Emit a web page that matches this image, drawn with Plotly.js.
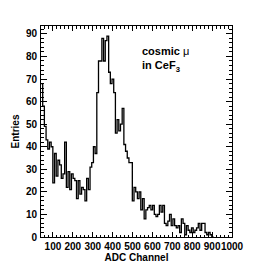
<!DOCTYPE html>
<html>
<head>
<meta charset="utf-8">
<script src="https://cdn.plot.ly/plotly-3.0.1.min.js"></script>
<style>html,body{margin:0;padding:0;background:#fff;}#chart{width:273px;height:264px;}</style>
</head>
<body>
<div id="chart"></div>
<script>
// Histogram: ADC channel counts (bin contents, left to right)
const binStart = 40;
const binWidth = 8.5;
const counts = [
  68,58,49,43,39,42,40,24,37,27,
  34,32,26,28,42,22,29,21,28,26,
  25,17,25,19,22,21,16,26,21,31,
  33,40,37,64,78,78,88,78,87,89,
  73,68,70,64,46,52,47,50,57,41,
  38,35,33,33,16,22,20,17,20,12,
  17,8,12,13,14,12,14,10,9,10,
  14,11,14,6,5,7,10,5,8,5,
  4,5,2,8,6,1,5,3,2,4,
  2,3,4,6,3,6,6,2,1,2,
  1,0
];
const xTickVals = [100,200,300,400,500,600,700,800,900,1000];
const xTickText = ["100","200","300","400","500","600","700","800","900","1000"];
const yTickVals = [0,10,20,30,40,50,60,70,80,90];

const xs = [], ys = [];
for (let i = 0; i < counts.length; i++) {
  xs.push(binStart + i * binWidth);
  ys.push(counts[i]);
}
xs.push(binStart + counts.length * binWidth);
ys.push(counts[counts.length - 1]);

const tickFont = {family: "Liberation Sans, Arial, sans-serif", size: 10, color: "#000", weight: "bold"};

const trace = {
  x: xs, y: ys, type: "scatter", mode: "lines",
  line: {shape: "hv", color: "#000", width: 1.3},
  hoverinfo: "skip"
};

const layout = {
  width: 273, height: 264,
  margin: {l: 41, r: 41, t: 26, b: 27},
  paper_bgcolor: "#fff", plot_bgcolor: "#fff",
  showlegend: false,
  xaxis: {
    range: [40, 1000],
    tickvals: xTickVals, ticktext: xTickText, tickangle: 0,
    ticks: "inside", ticklen: 5, tickwidth: 1, tickcolor: "#000",
    minor: {dtick: 20, ticks: "inside", ticklen: 2.5, tickcolor: "#000", tickwidth: 1, tick0: 0},
    showline: true, linecolor: "#000", linewidth: 1, mirror: "ticks",
    showgrid: false, zeroline: false,
    tickfont: tickFont, ticklabelstandoff: 0,
    title: {text: "ADC Channel", font: tickFont, standoff: 2}
  },
  yaxis: {
    range: [0, 93.5],
    tickvals: yTickVals,
    ticks: "inside", ticklen: 6, tickwidth: 1, tickcolor: "#000",
    minor: {dtick: 2, ticks: "inside", ticklen: 3, tickcolor: "#000", tickwidth: 1, tick0: 0},
    showline: true, linecolor: "#000", linewidth: 1, mirror: "ticks",
    showgrid: false, zeroline: false,
    tickfont: tickFont, ticklabelstandoff: 1,
    title: {text: "Entries", font: tickFont, standoff: 4}
  },
  annotations: [{
    xref: "paper", yref: "paper", x: 0.52, y: 0.92, xanchor: "left", yanchor: "top",
    text: "<b>cosmic</b> μ<br><b>in CeF<sub>3</sub></b>", showarrow: false, align: "left",
    font: {family: "Liberation Sans, Arial, sans-serif", size: 11, color: "#000"}
  }]
};

Plotly.newPlot("chart", [trace], layout, {staticPlot: true, displayModeBar: false});
</script>
</body>
</html>
